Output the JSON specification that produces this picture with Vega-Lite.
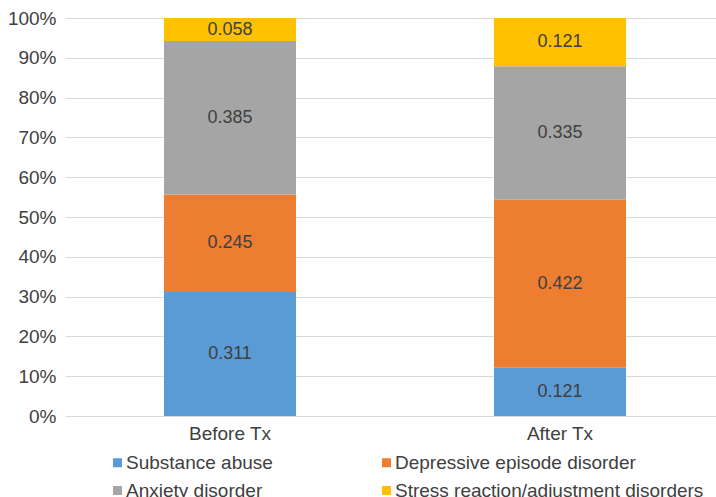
{
  "$schema": "https://vega.github.io/schema/vega-lite/v6.json",
  "autosize": "none",
  "width": 651,
  "height": 398,
  "padding": {"left": 65, "top": 18, "right": 0, "bottom": 81},
  "background": "white",
  "config": {
    "font": "Liberation Sans",
    "view": {"stroke": null},
    "axis": {"labelFont": "Liberation Sans", "labelFontSize": 19, "labelColor": "#404040"},
    "axisY": {
      "title": null,
      "format": ".0%",
      "labelOverlap": false,
      "labelFlush": false,
      "ticks": false,
      "domain": false,
      "grid": true,
      "gridColor": "#D9D9D9",
      "gridWidth": 1,
      "labelPadding": 9
    },
    "legend": {"labelFont": "Liberation Sans", "labelFontSize": 19, "labelColor": "#404040"}
  },
  "data": {
    "values": [
      {"phase": "Before Tx", "disorder": "Substance abuse", "v": 0.311},
      {"phase": "Before Tx", "disorder": "Depressive episode disorder", "v": 0.245},
      {"phase": "Before Tx", "disorder": "Anxiety disorder", "v": 0.385},
      {"phase": "Before Tx", "disorder": "Stress reaction/adjustment disorders", "v": 0.058},
      {"phase": "After Tx", "disorder": "Substance abuse", "v": 0.121},
      {"phase": "After Tx", "disorder": "Depressive episode disorder", "v": 0.422},
      {"phase": "After Tx", "disorder": "Anxiety disorder", "v": 0.335},
      {"phase": "After Tx", "disorder": "Stress reaction/adjustment disorders", "v": 0.121}
    ]
  },
  "transform": [
    {"calculate": "indexof(['Substance abuse','Depressive episode disorder','Anxiety disorder','Stress reaction/adjustment disorders'], datum.disorder)", "as": "k"},
    {"stack": "v", "groupby": ["phase"], "sort": [{"field": "k", "order": "ascending"}], "offset": "normalize", "as": ["y0", "y1"]},
    {"calculate": "(datum.y0 + datum.y1) / 2", "as": "ym"}
  ],
  "encoding": {
    "x": {
      "field": "phase",
      "type": "nominal",
      "sort": ["Before Tx", "After Tx"],
      "scale": {"range": [0, 660], "paddingInner": 0.6, "paddingOuter": 0.3},
      "axis": {"title": null, "labelAngle": 0, "ticks": false, "domain": false, "labelPadding": 8}
    }
  },
  "layer": [
    {
      "mark": {"type": "bar"},
      "encoding": {
        "y": {
          "field": "y0",
          "type": "quantitative",
          "scale": {"domain": [0, 1], "nice": false},
          "axis": {"values": [0, 0.1, 0.2, 0.3, 0.4, 0.5, 0.6, 0.7, 0.8, 0.9, 1]}
        },
        "y2": {"field": "y1"},
        "color": {
          "field": "disorder",
          "type": "nominal",
          "scale": {
            "domain": ["Substance abuse", "Depressive episode disorder", "Anxiety disorder", "Stress reaction/adjustment disorders"],
            "range": ["#5B9BD5", "#ED7D31", "#A5A5A5", "#FFC000"]
          },
          "legend": {
            "title": null,
            "orient": "none",
            "legendX": 43,
            "legendY": 435,
            "direction": "horizontal",
            "columns": 2,
            "symbolType": "square",
            "symbolSize": 81,
            "symbolStrokeWidth": 0,
            "labelOffset": -1,
            "columnPadding": 104,
            "rowPadding": 8,
            "labelLimit": 400,
            "padding": 0
          }
        }
      }
    },
    {
      "mark": {"type": "text", "fontSize": 18, "color": "#404040", "baseline": "middle"},
      "encoding": {
        "y": {
          "field": "ym",
          "type": "quantitative",
          "axis": {"values": [0, 0.1, 0.2, 0.3, 0.4, 0.5, 0.6, 0.7, 0.8, 0.9, 1]}
        },
        "text": {"field": "v", "type": "quantitative", "format": ".3f"}
      }
    }
  ]
}
